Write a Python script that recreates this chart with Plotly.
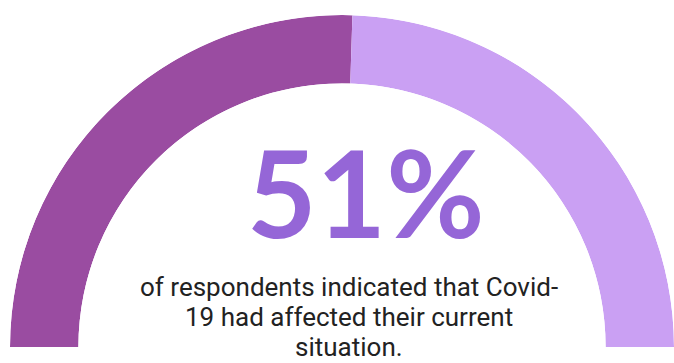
import plotly.graph_objects as go

labels = ["Affected", "Not affected"]
values = [51, 49]
colors = ["#9A4CA1", "#CAA0F3"]
headline = "51%"
caption_lines = [
    "of respondents indicated that Covid-",
    "19 had affected their current",
    "situation.",
]

total = sum(values)
widths = [v / total * 180 for v in values]
centers = []
acc = 0
for w in widths:
    centers.append(acc + w / 2)
    acc += w

fig = go.Figure()
fig.add_trace(go.Barpolar(
    r=[1] * len(values),
    theta=centers,
    width=widths,
    marker=dict(color=colors, line=dict(width=0)),
    text=labels,
    hoverinfo="text",
    showlegend=False,
))

W, H = 674, 363
annotations = [
    dict(text=headline, x=366 / W, y=(H - 192) / H, xref="paper", yref="paper",
         showarrow=False, xanchor="center", yanchor="middle",
         font=dict(family="Lato", size=120, color="#9566D7", weight="bold")),
]
line_centers = [287, 317, 347]
for txt, yc in zip(caption_lines, line_centers):
    annotations.append(dict(
        text=txt, x=349 / W, y=(H - yc) / H, xref="paper", yref="paper",
        showarrow=False, xanchor="center", yanchor="middle",
        font=dict(family="Roboto", size=26, color="#222222")))

fig.update_layout(
    width=W, height=H,
    margin=dict(l=0, r=0, t=0, b=0),
    paper_bgcolor="white",
    plot_bgcolor="white",
    polar=dict(
        domain=dict(x=[10 / W, 1], y=[16 / H, 348 / H]),
        sector=[0, 180],
        hole=0.794,
        bgcolor="white",
        angularaxis=dict(rotation=180, direction="clockwise", visible=False),
        radialaxis=dict(range=[0, 1], visible=False),
    ),
    annotations=annotations,
)
fig.write_html("out.html")
